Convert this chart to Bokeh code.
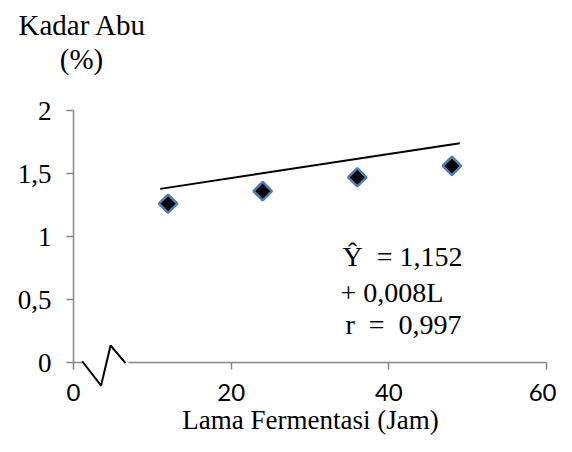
import math
from bokeh.plotting import figure
from bokeh.models import Range1d, FixedTicker, Label
from bokeh.embed import file_html
from bokeh.resources import INLINE

# ---- data ----
lama = [12, 24, 36, 48]                  # Lama Fermentasi (Jam)
kadar_abu = [1.26, 1.36, 1.47, 1.56]     # Kadar Abu (%)
trend_x = [11, 49]
trend_y = [1.378, 1.74]
x_ticks = [0, 20, 40, 60]
y_ticks = [0, 0.5, 1, 1.5, 2]
y_tick_labels = ["0", "0,5", "1", "1,5", "2"]
break_x = [1.1, 3.5, 4.7, 6.6]
break_y = [0.01, -0.183, 0.135, -0.005]
gap_x = [1.15, 6.95]
gap_y = [0, 0]

SERIF = "Liberation Serif"
AXIS_GRAY = "#878787"
NB = "\u00a0"

W, H = 556, 436
X0, Y0 = 73, 362          # pixel position of data origin
SX, SY = 7.883, 126.0     # pixels per data unit

p = figure(width=W, height=H, output_backend="svg", toolbar_location=None,
           x_range=Range1d(-X0 / SX, (W - X0) / SX),
           y_range=Range1d((Y0 - H) / SY, Y0 / SY),
           min_border=0, min_border_left=0, min_border_right=0,
           min_border_top=0, min_border_bottom=0)
p.outline_line_color = None
p.grid.visible = False
p.background_fill_color = "white"
p.border_fill_color = "white"

# y axis at x = 0
ya = p.yaxis[0]
ya.fixed_location = 0
ya.ticker = FixedTicker(ticks=y_ticks)
ya.major_label_overrides = {t: l for t, l in zip(y_ticks, y_tick_labels)}
ya.bounds = (0, 2)
ya.axis_line_color = AXIS_GRAY
ya.axis_line_width = 1.5
ya.major_tick_line_color = AXIS_GRAY
ya.major_tick_line_width = 1.5
ya.major_tick_out = 7
ya.major_tick_in = 0
ya.minor_tick_line_color = None
ya.major_label_text_font = SERIF
ya.major_label_text_font_size = "27px"
ya.major_label_text_color = "black"
ya.major_label_standoff = 15

# x axis at y = 0
xa = p.xaxis[0]
xa.fixed_location = 0
xa.ticker = FixedTicker(ticks=x_ticks)
xa.bounds = (0, 60)
xa.axis_line_color = AXIS_GRAY
xa.axis_line_width = 1.5
xa.major_tick_line_color = AXIS_GRAY
xa.major_tick_line_width = 1.5
xa.major_tick_out = 7
xa.major_tick_in = 0
xa.minor_tick_line_color = None
xa.major_label_text_font = "Lato"
xa.major_label_text_font_size = "24px"
xa.major_label_text_color = "black"
xa.major_label_standoff = 14

# axis break
r_gap = p.line(gap_x, gap_y, line_color="white", line_width=5)
r_gap.level = "overlay"
r_brk = p.line(break_x, break_y, line_color="black", line_width=2)
r_brk.level = "overlay"

# trend line and data
p.line(trend_x, trend_y, line_color="black", line_width=2)
p.scatter(lama, kadar_abu, marker="square", size=13, angle=math.pi / 4,
          fill_color="black", line_color="#4a7ebb", line_width=2.5)

def lab(text, px, py, align, size):
    # px, py: pixel position measured from the top-left of the canvas
    p.add_layout(Label(x=px, y=H - py, x_units="screen", y_units="screen", text=text,
                       text_font=SERIF, text_font_size=size, text_color="black",
                       text_align=align, text_baseline="middle"))

lab("Kadar Abu", 82, 24.5, "center", "29px")
lab("(%)", 81, 58.5, "center", "29px")
lab("Ŷ" + NB + NB + "= 1,152", 342, 256, "left", "28px")
lab("+ 0,008L", 340, 291.5, "left", "28px")
lab("r" + NB + NB + "=" + NB + NB + "0,997", 345, 324, "left", "28px")
lab("Lama Fermentasi (Jam)", 310, 419, "center", "27px")

open("out.html", "w").write(file_html(p, INLINE))
